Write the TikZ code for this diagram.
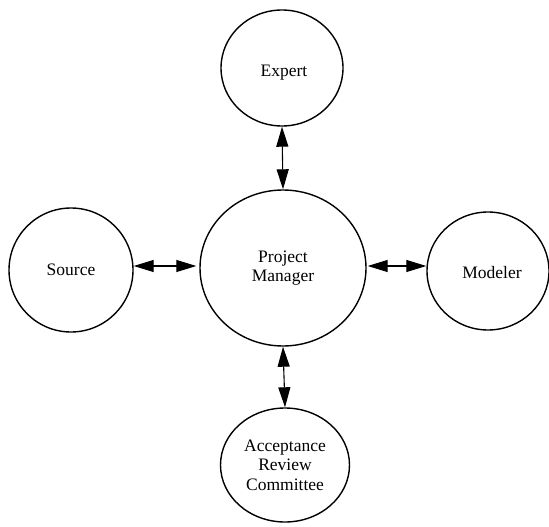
\documentclass[tikz,border=0pt]{standalone}
\usepackage{fontspec}
\setmainfont{Liberation Serif}
\usetikzlibrary{shapes.geometric,arrows.meta}
\begin{document}
\begin{tikzpicture}[x=1bp,y=-1bp,
  actor/.style={draw,ellipse,line width=1.4bp,inner sep=0pt,align=center,
    font=\fontsize{17.5bp}{19.5bp}\selectfont},
  link/.style={line width=1.1bp,{Triangle[length=20bp,width=12bp]}-{Triangle[length=20bp,width=12bp]}}]
\useasboundingbox (0,0) rectangle (549,527);
\node[actor,minimum width=122bp,minimum height=116bp] (ex) at (282,68) {};
\node[font=\fontsize{17.5bp}{19.5bp}\selectfont] (ext) at (284,73) {Expert};
\node[actor,minimum width=166bp,minimum height=156bp] (pm) at (283,268) {Project\\Manager};
\node[actor,minimum width=124bp,minimum height=124bp] (so) at (71,270) {Source};
\node[actor,minimum width=122bp,minimum height=118bp] (mo) at (488,271) {};
\node[font=\fontsize{17.5bp}{19.5bp}\selectfont] (mot) at (492,273) {Modeler};
\node[actor,minimum width=129bp,minimum height=114bp] (ar) at (285,465) {Acceptance\\Review\\Committee};
\draw[link] (so.east |- 0,266) -- ([xshift=-3bp]pm.west |- 0,266);
\draw[link] (ex.south) -- (pm.north);
\draw[link] ([xshift=1bp]pm.east |- 0,266) -- (mo.west |- 0,266);
\draw[link] (pm.south) -- (ar.north);
\end{tikzpicture}
\end{document}
